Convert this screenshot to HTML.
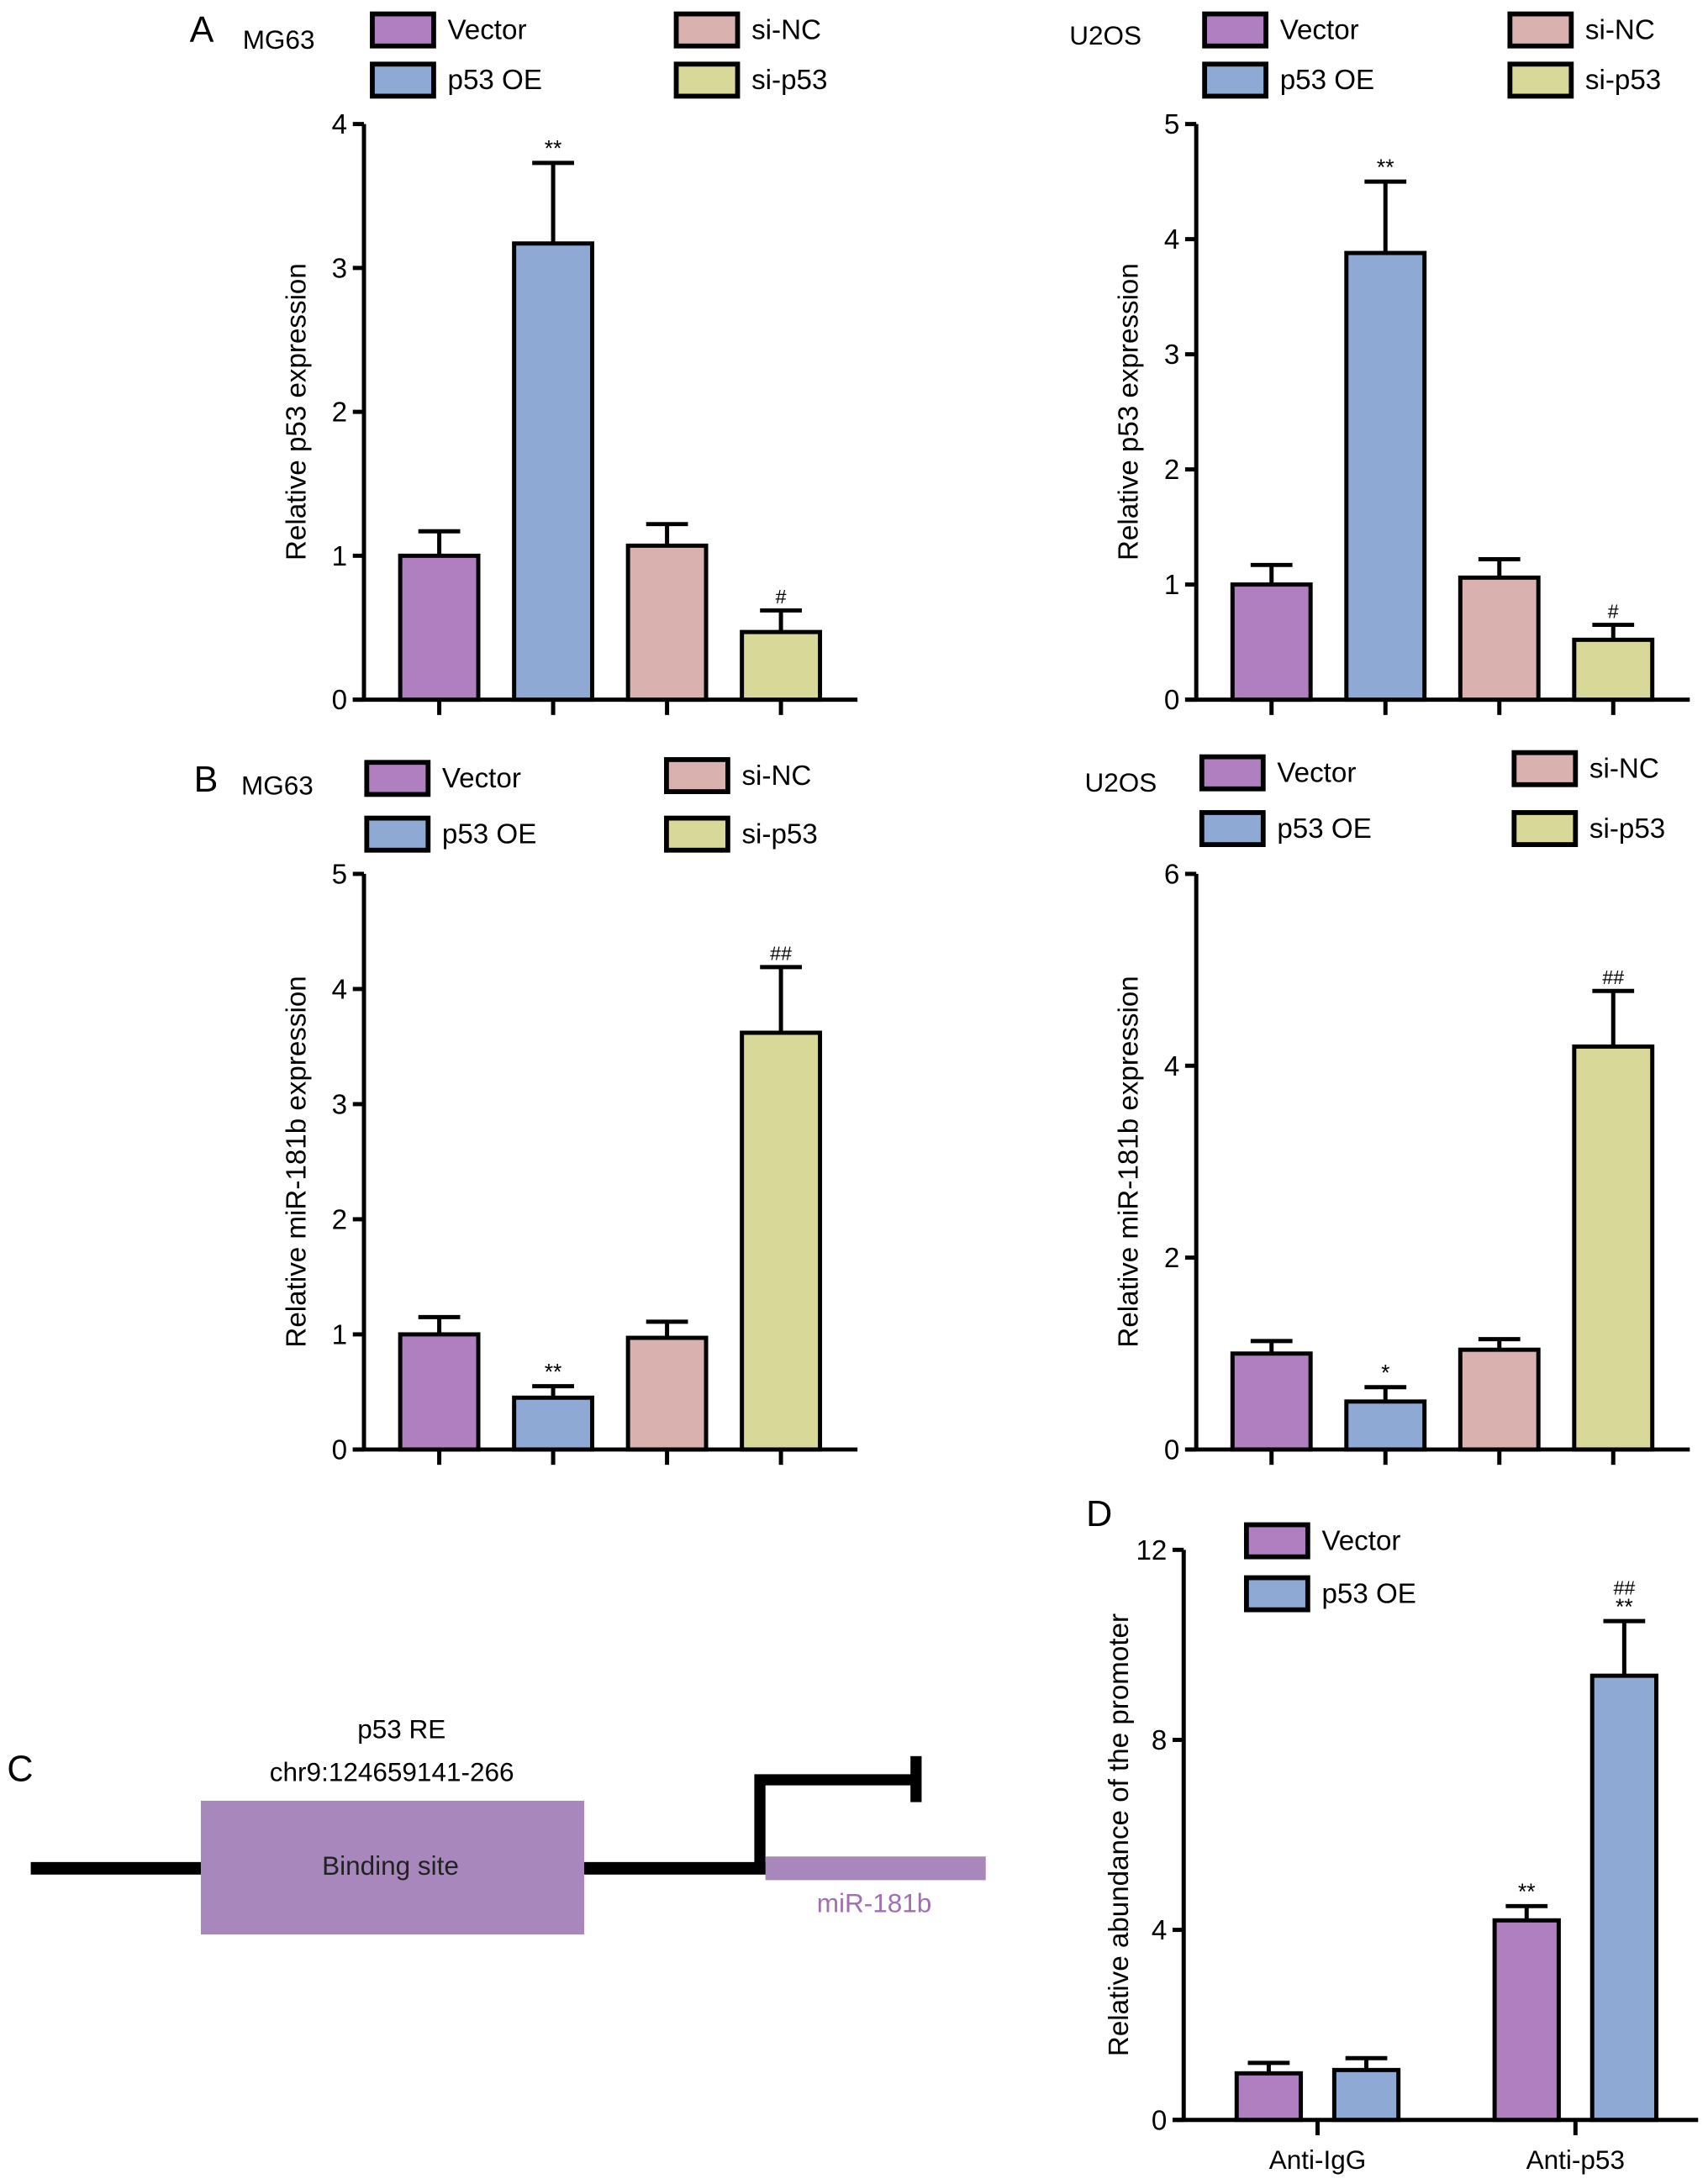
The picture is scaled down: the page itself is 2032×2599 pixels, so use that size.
<!DOCTYPE html>
<html><head><meta charset="utf-8">
<style>
html,body{margin:0;padding:0;background:#fff;}
svg{display:block;font-family:"Liberation Sans",Arial,sans-serif;}
</style></head>
<body>
<svg id="fig" width="2032" height="2599" viewBox="0 0 1225 1567" xmlns="http://www.w3.org/2000/svg">
<g id="panelC">
  <text x="5" y="1278" font-size="26">C</text>
  <text x="288" y="1247" font-size="19" text-anchor="middle">p53 RE</text>
  <text x="281" y="1278" font-size="19" text-anchor="middle">chr9:124659141-266</text>
  <rect x="22" y="1336" width="530" height="9" fill="#000"/>
  <rect x="144" y="1292" width="275" height="96" fill="#a888bc"/>
  <text x="280" y="1345" font-size="19" text-anchor="middle" fill="#222">Binding site</text>
  <path d="M545,1341 V1277 H657" fill="none" stroke="#000" stroke-width="8"/>
  <rect x="653" y="1260" width="8" height="33" fill="#000"/>
  <rect x="549" y="1332" width="158" height="17" fill="#a888bc"/>
  <text x="627" y="1372" font-size="19" text-anchor="middle" fill="#a070b0">miR-181b</text>
</g>
</svg>
<script>
const NS="http://www.w3.org/2000/svg";
const svg=document.getElementById('fig');
const COLORS=["#b07fc0","#8eaad4","#d9b1ae","#d8d898"];
const groupNames=["Vector","p53 OE","si-NC","si-p53"];

// Panel A MG63
const aMgValues=[1.0,3.17,1.07,0.47];
const aMgErrors=[0.17,0.56,0.15,0.15];
const aMgMarks=["","**","","#"];
const aMgTicks=[0,1,2,3,4];
// Panel A U2OS
const aUValues=[1.0,3.88,1.06,0.52];
const aUErrors=[0.17,0.62,0.16,0.13];
const aUMarks=["","**","","#"];
const aUTicks=[0,1,2,3,4,5];
// Panel B MG63
const bMgValues=[1.0,0.45,0.97,3.62];
const bMgErrors=[0.15,0.10,0.14,0.57];
const bMgMarks=["","**","","##"];
const bMgTicks=[0,1,2,3,4,5];
// Panel B U2OS
const bUValues=[1.0,0.5,1.04,4.2];
const bUErrors=[0.13,0.15,0.11,0.58];
const bUMarks=["","*","","##"];
const bUTicks=[0,2,4,6];
// Panel D
const dCategories=["Anti-IgG","Anti-p53"];
const dVector=[0.98,4.2];
const dVectorErr=[0.22,0.3];
const dOE=[1.05,9.35];
const dOEErr=[0.25,1.15];
const dVectorMarks=["","**"];
const dOEMarks=["","##\n**"];
const dTicks=[0,4,8,12];

function el(tag,attrs,parent){const e=document.createElementNS(NS,tag);for(const k in attrs)e.setAttribute(k,attrs[k]);(parent||svg).appendChild(e);return e;}

function axes(g,cfg){
  const y=v=>cfg.y0-(v/cfg.max)*(cfg.y0-cfg.y1);
  const ax=el('line',{x1:cfg.x0,y1:cfg.y0,x2:cfg.x0,y2:y(cfg.max),stroke:'#000','stroke-width':3},g);
  
  
  const xa=el('line',{x1:cfg.x0-8,y1:cfg.y0,x2:cfg.xEnd,y2:cfg.y0,stroke:'#000','stroke-width':3},g);
  
  
  cfg.ticks.forEach(t=>{
    el('line',{x1:cfg.x0-8,y1:y(t),x2:cfg.x0,y2:y(t),stroke:'#000','stroke-width':3},g);
    const tx=el('text',{x:cfg.x0-12,y:y(t)+7,'font-size':20,'text-anchor':'end'},g);
    tx.textContent=t;
    
    
  });
  const cy=(cfg.y0+y(cfg.max))/2+cfg.labelShift;
  const lab=el('text',{x:cfg.labelX,y:cy,'font-size':20,'text-anchor':'middle',transform:`rotate(-90 ${cfg.labelX} ${cy})`},g);
  lab.textContent=cfg.label;
  
  
  return y;
}
function bar(g,y,cx,w,v,e,color,mark){
  const top=y(v),et=y(v+e);
  el('line',{x1:cx,y1:top,x2:cx,y2:et,stroke:'#000','stroke-width':3},g);
  el('line',{x1:cx-15,y1:et,x2:cx+15,y2:et,stroke:'#000','stroke-width':3},g);
  const r=el('rect',{x:cx-w/2,y:top,width:w,height:y(0)-top,fill:color,stroke:'#000','stroke-width':3},g);
  
  
  if(mark){
    mark.split("\n").reverse().forEach((m,i)=>{
      const t=el('text',{x:cx,y:et-5-i*14,'font-size':m.includes('#')?14:16,'text-anchor':'middle'},g);
      t.textContent=m;
      
      
    });
  }
}
function legend(g,items){
  items.forEach(it=>{
    const r=el('rect',{x:it.x,y:it.y,width:44,height:23,fill:it.c,stroke:'#000','stroke-width':3.5},g);
    
    
    const t=el('text',{x:it.x+54,y:it.y+18,'font-size':20},g);
    t.textContent=it.t;
    
    
  });
}
function label(g,x,yy,txt,size,name){
  const t=el('text',{x:x,y:yy,'font-size':size},g);
  t.textContent=txt;
  
  
}
function quadPanel(name,cfg,vals,errs,marks,leg,title){
  const g=el('g',{});
  
  
  const y=axes(g,cfg);
  vals.forEach((v,i)=>{
    const cx=cfg.x0+54+i*81.7;
    bar(g,y,cx,56,v,errs[i],COLORS[i],marks[i]);
    el('line',{x1:cx,y1:cfg.y0,x2:cx,y2:cfg.y0+11,stroke:'#000','stroke-width':3},g);
  });
  legend(g,leg);
  title.forEach(t=>label(g,t[0],t[1],t[2],t[3],t[4]));
}
function legItems(x1,x2,yv,yo,ysn,ysp){
  return [{x:x1,y:yv,c:COLORS[0],t:groupNames[0]},{x:x1,y:yo,c:COLORS[1],t:groupNames[1]},
          {x:x2,y:ysn,c:COLORS[2],t:groupNames[2]},{x:x2,y:ysp,c:COLORS[3],t:groupNames[3]}];
}
quadPanel('panel-a-mg63',{x0:261,y0:502,y1:89,max:4,xEnd:615,ticks:aMgTicks,label:'Relative p53 expression',labelX:219,labelShift:0},
  aMgValues,aMgErrors,aMgMarks,legItems(267,485,10,46,10,46),
  [[136,30,'A',26,'panel-label-a'],[174,35,'MG63',19,'cell-line-label']]);
quadPanel('panel-a-u2os',{x0:858,y0:502,y1:89,max:5,xEnd:1212,ticks:aUTicks,label:'Relative p53 expression',labelX:816,labelShift:0},
  aUValues,aUErrors,aUMarks,legItems(864,1083,10,46,10,46),
  [[767,32,'U2OS',19,'cell-line-label']]);
quadPanel('panel-b-mg63',{x0:261,y0:1040,y1:627,max:5,xEnd:615,ticks:bMgTicks,label:'Relative miR-181b expression',labelX:219,labelShift:0},
  bMgValues,bMgErrors,bMgMarks,legItems(263,478,547,587,545,587),
  [[139,568,'B',26,'panel-label-b'],[173,570,'MG63',19,'cell-line-label']]);
quadPanel('panel-b-u2os',{x0:858,y0:1040,y1:627,max:6,xEnd:1212,ticks:bUTicks,label:'Relative miR-181b expression',labelX:816,labelShift:0},
  bUValues,bUErrors,bUMarks,legItems(862,1086,543,583,540,583),
  [[778,568,'U2OS',19,'cell-line-label']]);

// Panel D
(function(){
  const g=el('g',{});
  
  
  const cfg={x0:849,y0:1521,y1:1112,max:12,xEnd:1218,ticks:dTicks,label:'Relative abundance of the promoter',labelX:809,labelShift:0};
  const y=axes(g,cfg);
  const centers=[945,1130];
  dCategories.forEach((c,i)=>{
    const cx=centers[i];
    bar(g,y,cx-35,46,dVector[i],dVectorErr[i],COLORS[0],dVectorMarks[i]);
    bar(g,y,cx+35,46,dOE[i],dOEErr[i],COLORS[1],dOEMarks[i]);
    el('line',{x1:cx,y1:cfg.y0,x2:cx,y2:cfg.y0+11,stroke:'#000','stroke-width':3},g);
    const t=el('text',{x:cx,y:1556,'font-size':19,'text-anchor':'middle'},g);
    t.textContent=c;
    
    
  });
  legend(g,[{x:894,y:1094,c:COLORS[0],t:'Vector'},{x:894,y:1132,c:COLORS[1],t:'p53 OE'}]);
  label(g,779,1095,'D',26,'panel-label-d');
})();
</script>
</body></html>
